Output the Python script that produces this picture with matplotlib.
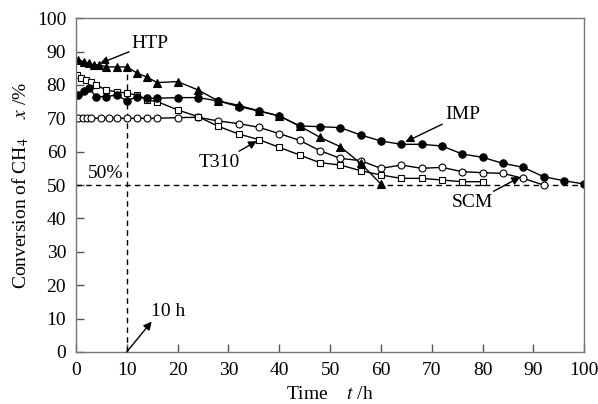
import numpy as np
import matplotlib
matplotlib.use("Agg")
import matplotlib.pyplot as plt

plt.rcParams['font.family'] = ['Liberation Serif', 'DejaVu Serif']
plt.rcParams['mathtext.fontset'] = 'stix'

# HTP - filled triangles
htp_t = [0.5, 1.5, 2.5, 3.5, 4.5, 6, 8, 10, 12, 14, 16, 20, 24, 28, 32, 36, 40, 44, 48, 52, 56, 60]
htp_x = [87.5, 87, 86.5, 86, 86, 85.4, 85.4, 85.4, 83.6, 82.3, 80.7, 81, 78.5, 75.2, 73.9, 72.2, 70.7, 67.7, 64.3, 61.5, 56.5, 50.3]

# IMP - filled circles
imp_t = [0.5, 1.5, 2.5, 4, 6, 8, 10, 12, 14, 16, 20, 24, 28, 32, 36, 40, 44, 48, 52, 56, 60,
         64, 68, 72, 76, 80, 84, 88, 92, 96, 100]
imp_x = [77, 78.3, 79, 76.5, 76.5, 77, 75.2, 76.5, 76, 76, 76.2, 76.2, 75.2, 73.5, 72.2, 70.7, 67.7,
         67.5, 67.2, 65, 63.2, 62.2, 62.2, 61.7, 59.3, 58.3, 56.5, 55.3, 52.5, 51.3, 50.3]

# T310 - open squares
t310_t = [0.3, 1, 2, 3, 4, 6, 8, 10, 12, 14, 16, 20, 24, 28, 32, 36, 40, 44, 48, 52, 56, 60,
          64, 68, 72, 76, 80]
t310_x = [83, 82, 81.4, 81, 80, 78.4, 78, 77.5, 77, 75.5, 75, 72.5, 70.5, 67.6, 65.3, 63.6, 61.3,
          59, 56.7, 56, 54.3, 53, 52, 52, 51.5, 51, 51]

# SCM - open circles
scm_t = [0.5, 1.3, 2.2, 3, 5, 6.5, 8, 10, 12, 14, 16, 20, 24, 28, 32, 36, 40, 44, 48, 52, 56,
         60, 64, 68, 72, 76, 80, 84, 88, 92]
scm_x = [70, 70, 70, 70, 70, 70, 70, 70, 70, 70, 70, 70.2, 70.3, 69.2, 68.4, 67.3, 65.4, 63.4,
         60.3, 58, 57.3, 55, 56, 55, 55.3, 54, 53.7, 53.5, 52, 50]

fig = plt.figure(figsize=(5.98, 4.04), dpi=100)
ax = fig.add_axes([0.127, 0.129, 0.85, 0.826])

# reference lines
ax.plot([0, 100], [50, 50], color='black', ls=(0, (4, 3)), lw=1)
ax.plot([10, 10], [0, 85.4], color='black', ls=(0, (4, 3)), lw=1)

lk = dict(color='black', lw=1, markeredgecolor='black', markeredgewidth=0.8)
ax.plot(scm_t, scm_x, marker='o', ms=5, markerfacecolor='white', **lk)
ax.plot(t310_t, t310_x, marker='s', ms=4.5, markerfacecolor='white', **lk)
ax.plot(imp_t, imp_x, marker='o', ms=5.3, markerfacecolor='black', **lk)
ax.plot(htp_t, htp_x, marker='^', ms=6, markerfacecolor='black', **lk)

ax.set_xlim(0, 100)
ax.set_ylim(0, 100)
ax.set_xticks(np.arange(0, 101, 10))
ax.set_yticks(np.arange(0, 101, 10))
ax.tick_params(direction='in', length=6, width=1, labelsize=14, color='#555555', pad=7)
for s in ax.spines.values():
    s.set_color('#777777')
    s.set_linewidth(1)

ax.set_xlabel('Time    $t$ /h', fontsize=14, labelpad=5)
ax.set_ylabel('Conversion of CH$_4$    $x$ /%', fontsize=14, labelpad=4)

arr = dict(arrowstyle='-|>', color='black', lw=1, mutation_scale=12, shrinkA=0, shrinkB=0)
ax.annotate('HTP', xy=(4.7, 86.4), xytext=(11.0, 92.5), fontsize=14, va='center', ha='left',
            arrowprops=arr)
ax.annotate('IMP', xy=(64.8, 62.9), xytext=(72.6, 68.6), fontsize=14, va='bottom', ha='left',
            arrowprops=arr)
ax.annotate('T310', xy=(35.6, 63.2), xytext=(32.3, 59.3), fontsize=14, va='top', ha='right',
            arrowprops=arr)
ax.annotate('SCM', xy=(87.4, 52.4), xytext=(82.1, 47.3), fontsize=14, va='top', ha='right',
            arrowprops=arr)
ax.annotate('', xy=(14.9, 9.1), xytext=(10, 0), arrowprops=arr, annotation_clip=False)
ax.text(14.8, 12, '10 h', fontsize=14, ha='left', va='center')
ax.text(2.3, 51, '50%', fontsize=14, ha='left', va='bottom')

fig.savefig('out.png', dpi=100)
